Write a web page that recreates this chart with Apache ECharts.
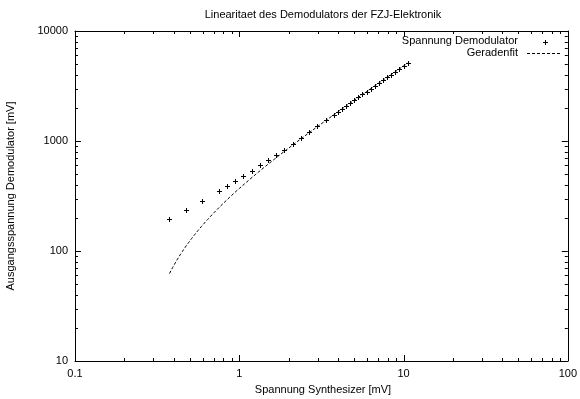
<!DOCTYPE html>
<html><head><meta charset="utf-8">
<script src="https://cdn.jsdelivr.net/npm/echarts@6/dist/echarts.min.js"></script>
<style>html,body{margin:0;padding:0;background:#fff}#c{width:580px;height:399px}</style>
</head><body><div id="c"></div>
<script>
const chartTitle = 'Linearitaet des Demodulators der FZJ-Elektronik';
const xAxisTitle = 'Spannung Synthesizer [mV]';
const yAxisTitle = 'Ausgangsspannung Demodulator [mV]';
const seriesNames = ['Spannung Demodulator', 'Geradenfit'];
const xTickLabels = ['0.1', '1', '10', '100'];
const yTickLabels = ['10', '100', '1000', '10000'];

const synthVoltage = [0.376, 0.473, 0.596, 0.750, 0.841, 0.944, 1.059, 1.189, 1.334, 1.496,
  1.679, 1.884, 2.113, 2.371, 2.661, 2.985, 3.350, 3.758, 3.981, 4.217, 4.467, 4.732,
  5.012, 5.309, 5.623, 5.957, 6.310, 6.683, 7.079, 7.499, 7.943, 8.414, 8.913, 9.441,
  10.0, 10.59];
const demodVoltage = [194, 234, 285, 349, 390, 430, 484, 537, 601, 671,
  750, 830, 940, 1070, 1205, 1355, 1540, 1740, 1848, 1963, 2085, 2215,
  2352, 2497, 2651, 2815, 2988, 3170, 3364, 3570, 3788, 4020, 4266, 4527,
  4805, 5100];

// straight-line fit y = a*x + b
const fitSlope = 493;
const fitOffset = -123;

const X_MIN = 0.1, X_MAX = 100, Y_MIN = 10, Y_MAX = 10000;

// fit curve evaluated along the measured x range
const fitData = [];
{
  const x0 = synthVoltage[0], x1 = synthVoltage[synthVoltage.length - 1];
  const n = 150;
  for (let i = 0; i <= n; i++) {
    const x = Math.pow(10, Math.log10(x0) + (Math.log10(x1) - Math.log10(x0)) * i / n);
    fitData.push([x, fitSlope * x + fitOffset]);
  }
}

// tick positions: kind 0 = x major, 1 = x minor, 2 = y major, 3 = y minor
const tickData = [];
for (let e = -1; e <= 2; e++) {
  tickData.push([Math.pow(10, e), Y_MIN, 0]);
  if (e < 2) for (let m = 2; m <= 9; m++) tickData.push([m * Math.pow(10, e), Y_MIN, 1]);
}
for (let e = 1; e <= 4; e++) {
  tickData.push([X_MIN, Math.pow(10, e), 2]);
  if (e < 4) for (let m = 2; m <= 9; m++) tickData.push([X_MIN, m * Math.pow(10, e), 3]);
}

const FONT = '"Liberation Sans", Arial, Helvetica, sans-serif';
const lineStyle = { stroke: '#000', lineWidth: 1 };

function crossGroup(cx, cy) {
  cx = Math.round(cx); cy = Math.round(cy);
  return [
    { type: 'line', shape: { x1: cx - 2, y1: cy + 0.5, x2: cx + 3, y2: cy + 0.5 }, style: lineStyle },
    { type: 'line', shape: { x1: cx + 0.5, y1: cy - 2, x2: cx + 0.5, y2: cy + 3 }, style: lineStyle }
  ];
}

const chart = echarts.init(document.getElementById('c'), null, { renderer: 'canvas' });

const logLabel = (labels, offset) => (v) => {
  const i = Math.round(Math.log10(v)) + offset;
  return labels[i] !== undefined ? labels[i] : '';
};

chart.setOption({
  animation: false,
  backgroundColor: '#fff',
  grid: { left: 75, right: 8, top: 31, bottom: 38, containLabel: false },
  xAxis: [
    { type: 'log', logBase: 10, min: X_MIN, max: X_MAX, position: 'bottom',
      axisLine: { show: true, lineStyle: { color: '#000', width: 1 } },
      axisTick: { show: false }, splitLine: { show: false }, minorTick: { show: false },
      axisLabel: { color: '#000', fontSize: 11, fontFamily: FONT, margin: 7,
        formatter: logLabel(xTickLabels, 1) } },
    { type: 'log', logBase: 10, min: X_MIN, max: X_MAX, position: 'top',
      axisLine: { show: true, lineStyle: { color: '#000', width: 1 } },
      axisTick: { show: false }, splitLine: { show: false }, axisLabel: { show: false } }
  ],
  yAxis: [
    { type: 'log', logBase: 10, min: Y_MIN, max: Y_MAX, position: 'left',
      axisLine: { show: true, lineStyle: { color: '#000', width: 1 } },
      axisTick: { show: false }, splitLine: { show: false },
      axisLabel: { color: '#000', fontSize: 11, fontFamily: FONT, margin: 7,
        formatter: logLabel(yTickLabels, -1) } },
    { type: 'log', logBase: 10, min: Y_MIN, max: Y_MAX, position: 'right',
      axisLine: { show: true, lineStyle: { color: '#000', width: 1 } },
      axisTick: { show: false }, splitLine: { show: false }, axisLabel: { show: false } }
  ],
  graphic: [
    { type: 'text', x: 323, y: 15, style: { text: chartTitle, font: '11px ' + FONT, fill: '#000', textAlign: 'center', textVerticalAlign: 'middle' } },
    { type: 'text', x: 323, y: 390, style: { text: xAxisTitle, font: '11px ' + FONT, fill: '#000', textAlign: 'center', textVerticalAlign: 'middle' } },
    { type: 'text', x: 11, y: 196, rotation: Math.PI / 2, style: { text: yAxisTitle, font: '11px ' + FONT, fill: '#000', textAlign: 'center', textVerticalAlign: 'middle' } },
    { type: 'text', x: 518, y: 41, style: { text: seriesNames[0], font: '11px ' + FONT, fill: '#000', textAlign: 'right', textVerticalAlign: 'middle' } },
    { type: 'text', x: 518, y: 52.5, style: { text: seriesNames[1], font: '11px ' + FONT, fill: '#000', textAlign: 'right', textVerticalAlign: 'middle' } },
    { type: 'group', children: crossGroup(545, 42) },
    { type: 'line', shape: { x1: 527, y1: 53.5, x2: 560, y2: 53.5 }, style: { stroke: '#000', lineWidth: 1, lineDash: [3, 2] } }
  ],
  series: [
    { type: 'custom', name: 'ticks', xAxisIndex: 0, yAxisIndex: 0, silent: true,
      data: tickData,
      renderItem: (params, api) => {
        const kind = api.value(2);
        const len = (kind === 0 || kind === 2) ? 6 : 3;
        if (kind <= 1) {
          const b = api.coord([api.value(0), Y_MIN]);
          const t = api.coord([api.value(0), Y_MAX]);
          const x = Math.round(b[0]) + 0.5;
          return { type: 'group', children: [
            { type: 'line', shape: { x1: x, y1: b[1], x2: x, y2: b[1] - len }, style: lineStyle },
            { type: 'line', shape: { x1: x, y1: t[1], x2: x, y2: t[1] + len }, style: lineStyle }
          ] };
        } else {
          const l = api.coord([X_MIN, api.value(1)]);
          const r = api.coord([X_MAX, api.value(1)]);
          const y = Math.round(l[1]) + 0.5;
          return { type: 'group', children: [
            { type: 'line', shape: { x1: l[0], y1: y, x2: l[0] + len, y2: y }, style: lineStyle },
            { type: 'line', shape: { x1: r[0], y1: y, x2: r[0] - len, y2: y }, style: lineStyle }
          ] };
        }
      } },
    { type: 'line', name: seriesNames[1], xAxisIndex: 0, yAxisIndex: 0,
      data: fitData, showSymbol: false, symbol: 'none', smooth: false,
      lineStyle: { color: '#000', width: 1, type: [3, 2] } },
    { type: 'custom', name: seriesNames[0], xAxisIndex: 0, yAxisIndex: 0,
      data: synthVoltage.map((x, i) => [x, demodVoltage[i]]),
      renderItem: (params, api) => {
        const p = api.coord([api.value(0), api.value(1)]);
        return { type: 'group', children: crossGroup(p[0], p[1]) };
      } }
  ]
});
</script>
</body></html>
